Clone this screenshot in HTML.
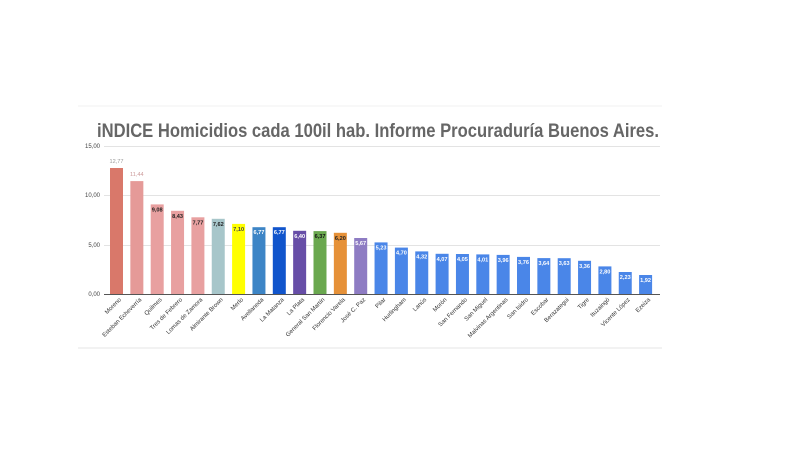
<!DOCTYPE html>
<html><head><meta charset="utf-8"><style>html,body{margin:0;padding:0;background:#fff;width:799px;height:450px;overflow:hidden}</style></head>
<body>
<svg width="799" height="450" xmlns="http://www.w3.org/2000/svg" font-family="Liberation Sans, sans-serif">
<rect width="799" height="450" fill="#fff"/>
<line x1="78" y1="106" x2="662" y2="106" stroke="#f2f2f2"/>
<line x1="78" y1="348" x2="662" y2="348" stroke="#e6e6e6"/>
<text x="378" y="137" text-anchor="middle" font-size="19" font-weight="bold" fill="#666" textLength="562" lengthAdjust="spacingAndGlyphs">iNDICE Homicidios cada 100il hab. Informe Procuraduría Buenos Aires.</text>
<g stroke="#e3e3e3" stroke-width="1">
<line x1="104" y1="146.5" x2="660" y2="146.5"/><line x1="104" y1="195.5" x2="660" y2="195.5"/><line x1="104" y1="245.5" x2="660" y2="245.5"/>
</g>
<g font-size="6" fill="#444" text-anchor="end">
<text x="100" y="148">15,00</text><text x="100" y="197">10,00</text><text x="100" y="247">5,00</text><text x="100" y="296">0,00</text>
</g>
<g font-size="5.6" font-weight="bold" text-anchor="middle">
<g transform="translate(116.5,0)"><rect x="-6.5" y="168" width="13" height="126" fill="#d9786a"/><text y="163" fill="#999" font-weight="normal">12,77</text></g>
<g transform="translate(136.85,0)"><rect x="-6.5" y="181.1" width="13" height="112.9" fill="#e59a98"/><text y="176" fill="#c99" font-weight="normal">11,44</text></g>
<g transform="translate(157.2,0)"><rect x="-6.5" y="204.4" width="13" height="89.6" fill="#e8a0a0"/><text y="211.4" fill="#222">9,08</text></g>
<g transform="translate(177.55,0)"><rect x="-6.5" y="210.8" width="13" height="83.2" fill="#e8a0a0"/><text y="217.8" fill="#222">8,43</text></g>
<g transform="translate(197.9,0)"><rect x="-6.5" y="217.3" width="13" height="76.7" fill="#e8a0a0"/><text y="224.3" fill="#222">7,77</text></g>
<g transform="translate(218.25,0)"><rect x="-6.5" y="218.8" width="13" height="75.2" fill="#a7c6ca"/><text y="225.8" fill="#222">7,62</text></g>
<g transform="translate(238.6,0)"><rect x="-6.5" y="223.9" width="13" height="70.1" fill="#ffff00"/><text y="230.9" fill="#444">7,10</text></g>
<g transform="translate(258.95,0)"><rect x="-6.5" y="227.2" width="13" height="66.8" fill="#3d85c6"/><text y="234.2" fill="#fff">6,77</text></g>
<g transform="translate(279.3,0)"><rect x="-6.5" y="227.2" width="13" height="66.8" fill="#1155cc"/><text y="234.2" fill="#fff">6,77</text></g>
<g transform="translate(299.65,0)"><rect x="-6.5" y="230.8" width="13" height="63.2" fill="#674ea7"/><text y="237.8" fill="#fff">6,40</text></g>
<g transform="translate(320,0)"><rect x="-6.5" y="231.1" width="13" height="62.9" fill="#6aa84f"/><text y="238.1" fill="#111">6,37</text></g>
<g transform="translate(340.35,0)"><rect x="-6.5" y="232.8" width="13" height="61.2" fill="#e69138"/><text y="239.8" fill="#222">6,20</text></g>
<g transform="translate(360.7,0)"><rect x="-6.5" y="238" width="13" height="56" fill="#8e7cc3"/><text y="245" fill="#fff">5,67</text></g>
<g fill="#4a86e8">
<rect x="374.55" y="242.4" width="13" height="51.6"/><rect x="394.9" y="247.6" width="13" height="46.4"/><rect x="415.25" y="251.4" width="13" height="42.6"/><rect x="435.6" y="253.8" width="13" height="40.2"/><rect x="455.95" y="254" width="13" height="40"/><rect x="476.3" y="254.4" width="13" height="39.6"/><rect x="496.65" y="254.9" width="13" height="39.1"/><rect x="517" y="256.9" width="13" height="37.1"/><rect x="537.35" y="258.1" width="13" height="35.9"/><rect x="557.7" y="258.2" width="13" height="35.8"/><rect x="578.05" y="260.8" width="13" height="33.2"/><rect x="598.4" y="266.4" width="13" height="27.6"/><rect x="618.75" y="272" width="13" height="22"/><rect x="639.1" y="275" width="13" height="19"/>
</g>
<g fill="#fff">
<text x="381.05" y="249.4">5,23</text><text x="401.4" y="254.6">4,70</text><text x="421.75" y="258.4">4,32</text><text x="442.1" y="260.8">4,07</text><text x="462.45" y="261">4,05</text><text x="482.8" y="261.4">4,01</text><text x="503.15" y="261.9">3,96</text><text x="523.5" y="263.9">3,76</text><text x="543.85" y="265.1">3,64</text><text x="564.2" y="265.2">3,63</text><text x="584.55" y="267.8">3,36</text><text x="604.9" y="273.4">2,80</text><text x="625.25" y="279">2,23</text><text x="645.6" y="282">1,92</text>
</g>
</g>
<line x1="104" y1="294.5" x2="660" y2="294.5" stroke="#555"/>
<g font-size="6" fill="#333" text-anchor="end">
<text transform="translate(121.5,300) rotate(-45)">Moreno</text>
<text transform="translate(141.85,300) rotate(-45)">Esteban Echeverría</text>
<text transform="translate(162.2,300) rotate(-45)">Quilmes</text>
<text transform="translate(182.55,300) rotate(-45)">Tres de Febrero</text>
<text transform="translate(202.9,300) rotate(-45)">Lomas de Zamora</text>
<text transform="translate(223.25,300) rotate(-45)">Almirante Brown</text>
<text transform="translate(243.6,300) rotate(-45)">Merlo</text>
<text transform="translate(263.95,300) rotate(-45)">Avellaneda</text>
<text transform="translate(284.3,300) rotate(-45)">La Matanza</text>
<text transform="translate(304.65,300) rotate(-45)">La Plata</text>
<text transform="translate(325,300) rotate(-45)">General San Martín</text>
<text transform="translate(345.35,300) rotate(-45)">Florencio Varela</text>
<text transform="translate(365.7,300) rotate(-45)">José C. Paz</text>
<text transform="translate(386.05,300) rotate(-45)">Pilar</text>
<text transform="translate(406.4,300) rotate(-45)">Hurlingham</text>
<text transform="translate(426.75,300) rotate(-45)">Lanús</text>
<text transform="translate(447.1,300) rotate(-45)">Morón</text>
<text transform="translate(467.45,300) rotate(-45)">San Fernando</text>
<text transform="translate(487.8,300) rotate(-45)">San Miguel</text>
<text transform="translate(508.15,300) rotate(-45)">Malvinas Argentinas</text>
<text transform="translate(528.5,300) rotate(-45)">San Isidro</text>
<text transform="translate(548.85,300) rotate(-45)">Escobar</text>
<text transform="translate(569.2,300) rotate(-45)">Berazategui</text>
<text transform="translate(589.55,300) rotate(-45)">Tigre</text>
<text transform="translate(609.9,300) rotate(-45)">Ituzaingó</text>
<text transform="translate(630.25,300) rotate(-45)">Vicente López</text>
<text transform="translate(650.6,300) rotate(-45)">Ezeiza</text>
</g>
</svg>
</body></html>
